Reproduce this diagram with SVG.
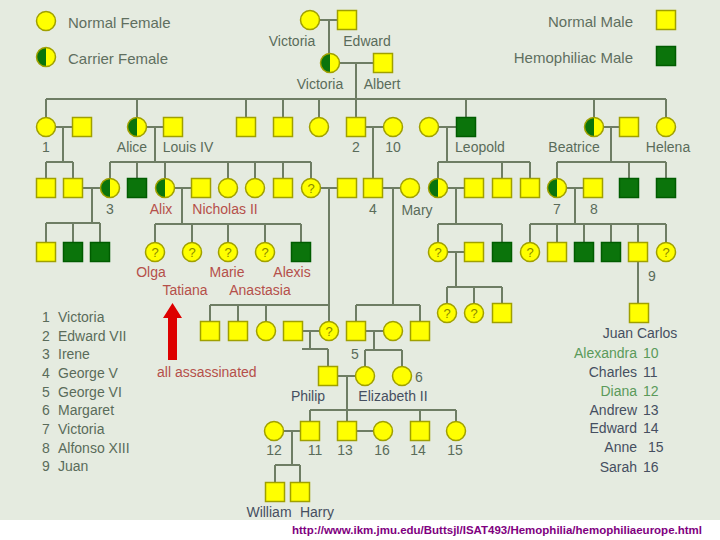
<svg xmlns="http://www.w3.org/2000/svg" xmlns:xlink="http://www.w3.org/1999/xlink" width="720" height="540" viewBox="0 0 720 540">
<style>
text{font-family:"Liberation Sans",Arial,sans-serif;font-size:14px;fill:#5a6b5a}
.lg{font-size:15px;fill:#5f6f5f}
.c{text-anchor:middle}
.e{text-anchor:end}
.r{fill:#b5504a}
.d{fill:#454f60}
.g{fill:#5a9a5a}
.q{font-size:13px;fill:#8a8a00;text-anchor:middle}
.ln{fill:none;stroke:#6e7d64;stroke-width:2}
.y{fill:#ffff00;stroke:#a0a000;stroke-width:1.5}
.h{fill:#0b740b;stroke:#005c00;stroke-width:1.5}
.url{font-size:11px;font-weight:bold;fill:#800080}
</style>
<defs>
<g id="F"><circle r="9.5" class="y"/></g>
<g id="M"><rect x="-9.5" y="-9.5" width="19" height="19" class="y"/></g>
<g id="H"><rect x="-9.5" y="-9.5" width="19" height="19" class="h"/></g>
<g id="C"><circle r="9.5" fill="#ffff00"/><path d="M0,-9.5A9.5,9.5 0 0,0 0,9.5Z" fill="#0b740b"/><circle r="9.5" fill="none" stroke="#a0a000" stroke-width="1.5"/></g>
<g id="Q"><circle r="9.5" class="y"/><text class="q" y="4.5">?</text></g>
</defs>
<rect width="720" height="540" fill="#e5ebe0"/>
<rect y="520" width="720" height="20" fill="#ffffff"/>

<g id="legend">
<use href="#F" x="46" y="21"/><text class="lg" x="68" y="28">Normal Female</text>
<use href="#C" x="46" y="57"/><text class="lg" x="68" y="64">Carrier Female</text>
<text class="lg e" x="633" y="27">Normal Male</text><use href="#M" x="666" y="20"/>
<text class="lg e" x="633" y="63">Hemophiliac Male</text><use href="#H" x="666" y="56"/>
</g>

<g id="connectors">
<path class="ln" d="M320,20H337M329,20V53.5M339.5,63H373.5M356,63V117.5M46,99H666M46,99V117.5M137,99V117.5M246,99V117.5M283,99V117.5M319,99V117.5M466,99V117.5M594,99V117.5M666,99V117.5
M55.5,127H72.5M63,127V162M146.5,127H163.5M155,127V162M365.5,127H383.5M373,127V178.5M438.5,127H456.5M447,127V162M603.5,127H619.5M611,127V162
M46,162H73M46,162V178.5M73,162V178.5M110,162H311M110,162V178.5M137,162V178.5M165,162V178.5M228,162V178.5M255,162V178.5M283,162V178.5M311,162V178.5
M438,162H530M438,162V178.5M502,162V178.5M530,162V178.5M557,162H666M557,162V178.5M629,162V178.5M666,162V178.5
M82.5,188H100.5M92,188V223M174.5,188H191.5M182,188V224M320.5,188H337.5M329,188V321.5M382.5,188H400.5M393,188V305M447.5,188H464.5M456,188V224M566.5,188H583.5M575,188V224
M46,223H100M46,223V242.5M73,223V242.5M100,223V242.5M155,224H301M155,224V242.5M192,224V242.5M228,224V242.5M265,224V242.5M301,224V242.5
M438,224H502M438,224V242.5M502,224V242.5M530,224H666M530,224V242.5M557,224V242.5M584,224V242.5M611,224V242.5M638,224V242.5M666,224V242.5
M447.5,252H464.5M456,252V287M638,261.5V303.5M447,287H502M447,287V303.5M474,287V303.5M502,287V303.5
M210,305H329M210,305V321.5M238,305V321.5M266,305V321.5M356,305H420M356,305V321.5M420,305V321.5
M302.5,331H319.5M310,331V349M302,349H328M328,349V366.5M365.5,331H383.5M374,331V350M365,350H402M365,350V366.5M402,350V366.5
M337.5,376H355.5M347,376V421.5M310,410H456M310,410V421.5M420,410V421.5M456,410V421.5
M283.5,431H300.5M292,431V465M275,465H300M275,465V482.5M300,465V482.5M356.5,431H373.5"/>
</g>

<g id="victoria0"><use href="#F" x="310" y="20"/><text class="c" x="292" y="46">Victoria</text></g>
<g id="edward"><use href="#M" x="347" y="20"/><text class="c" x="367" y="46">Edward</text></g>
<g id="victoria"><use href="#C" x="330" y="63"/><text class="c" x="320" y="89">Victoria</text></g>
<g id="albert"><use href="#M" x="383" y="63"/><text class="c" x="382" y="89">Albert</text></g>

<g id="n1"><use href="#F" x="46" y="127"/><text class="c" x="46" y="152">1</text></g>
<g id="n1sp"><use href="#M" x="82" y="127"/></g>
<g id="alice"><use href="#C" x="137" y="127"/><text class="c" x="132" y="152">Alice</text></g>
<g id="louis"><use href="#M" x="173" y="127"/><text class="c" x="188" y="152">Louis IV</text></g>
<g id="g2a"><use href="#M" x="246" y="127"/></g>
<g id="g2b"><use href="#M" x="283" y="127"/></g>
<g id="g2c"><use href="#F" x="319" y="127"/></g>
<g id="n2"><use href="#M" x="356" y="127"/><text class="c" x="356" y="152">2</text></g>
<g id="n10"><use href="#F" x="393" y="127"/><text class="c" x="393" y="152">10</text></g>
<g id="leowife"><use href="#F" x="429" y="127"/></g>
<g id="leopold"><use href="#H" x="466" y="127"/><text class="c" x="480" y="152">Leopold</text></g>
<g id="beatrice"><use href="#C" x="594" y="127"/><text class="c" x="574" y="152">Beatrice</text></g>
<g id="beasp"><use href="#M" x="629" y="127"/></g>
<g id="helena"><use href="#F" x="666" y="127"/><text class="c" x="668" y="152">Helena</text></g>

<g id="g3a"><use href="#M" x="46" y="188"/></g>
<g id="g3b"><use href="#M" x="73" y="188"/></g>
<g id="irene"><use href="#C" x="110" y="188"/><text class="c" x="110" y="214">3</text></g>
<g id="g3c"><use href="#H" x="137" y="188"/></g>
<g id="alix"><use href="#C" x="165" y="188"/><text class="c r" x="161" y="214">Alix</text></g>
<g id="nicholas"><use href="#M" x="201" y="188"/><text class="c r" x="225" y="214">Nicholas II</text></g>
<g id="g3d"><use href="#F" x="228" y="188"/></g>
<g id="g3e"><use href="#F" x="255" y="188"/></g>
<g id="g3f"><use href="#M" x="283" y="188"/></g>
<g id="g3g"><use href="#Q" x="311" y="188"/></g>
<g id="g3gsp"><use href="#M" x="347" y="188"/></g>
<g id="n4"><use href="#M" x="373" y="188"/><text class="c" x="373" y="214">4</text></g>
<g id="mary"><use href="#F" x="410" y="188"/><text class="c" x="417" y="215">Mary</text></g>
<g id="leoc"><use href="#C" x="438" y="188"/></g>
<g id="leocsp"><use href="#M" x="474" y="188"/></g>
<g id="g3h"><use href="#M" x="502" y="188"/></g>
<g id="g3i"><use href="#M" x="530" y="188"/></g>
<g id="n7"><use href="#C" x="557" y="188"/><text class="c" x="557" y="214">7</text></g>
<g id="n8"><use href="#M" x="593" y="188"/><text class="c" x="594" y="214">8</text></g>
<g id="g3j"><use href="#H" x="629" y="188"/></g>
<g id="g3k"><use href="#H" x="666" y="188"/></g>

<g id="g4a"><use href="#M" x="46" y="252"/></g>
<g id="g4b"><use href="#H" x="73" y="252"/></g>
<g id="g4c"><use href="#H" x="100" y="252"/></g>
<g id="olga"><use href="#Q" x="155" y="252"/><text class="c r" x="151" y="277">Olga</text></g>
<g id="tatiana"><use href="#Q" x="192" y="252"/><text class="c r" x="185" y="295">Tatiana</text></g>
<g id="marie"><use href="#Q" x="228" y="252"/><text class="c r" x="227" y="277">Marie</text></g>
<g id="anastasia"><use href="#Q" x="265" y="252"/><text class="c r" x="260" y="295">Anastasia</text></g>
<g id="alexis"><use href="#H" x="301" y="252"/><text class="c r" x="292" y="277">Alexis</text></g>
<g id="g4d"><use href="#Q" x="438" y="252"/></g>
<g id="g4dsp"><use href="#M" x="474" y="252"/></g>
<g id="g4e"><use href="#H" x="502" y="252"/></g>
<g id="g4f"><use href="#Q" x="530" y="252"/></g>
<g id="g4g"><use href="#M" x="557" y="252"/></g>
<g id="g4h"><use href="#H" x="584" y="252"/></g>
<g id="g4i"><use href="#H" x="611" y="252"/></g>
<g id="n9"><use href="#M" x="638" y="252"/><text class="c" x="652" y="281">9</text></g>
<g id="g4j"><use href="#Q" x="666" y="252"/></g>

<g id="g5a"><use href="#Q" x="447" y="313"/></g>
<g id="g5b"><use href="#Q" x="474" y="313"/></g>
<g id="g5c"><use href="#M" x="502" y="313"/></g>
<g id="juancarlos"><use href="#M" x="639" y="313"/></g>

<g id="g5d"><use href="#M" x="210" y="331"/></g>
<g id="g5e"><use href="#M" x="238" y="331"/></g>
<g id="g5f"><use href="#F" x="266" y="331"/></g>
<g id="g5gsp"><use href="#M" x="293" y="331"/></g>
<g id="g5g"><use href="#Q" x="329" y="331"/></g>
<g id="n5"><use href="#M" x="356" y="331"/><text class="c" x="355" y="359">5</text></g>
<g id="n5sp"><use href="#F" x="393" y="331"/></g>
<g id="g5h"><use href="#M" x="420" y="331"/></g>

<g id="philip"><use href="#M" x="328" y="376"/><text class="c d" x="308" y="401">Philip</text></g>
<g id="elizabeth"><use href="#F" x="365" y="376"/><text class="c d" x="393" y="401">Elizabeth II</text></g>
<g id="n6"><use href="#F" x="402" y="376"/><text class="c" x="419" y="382">6</text></g>

<g id="n12"><use href="#F" x="274" y="431"/><text class="c" x="274" y="455">12</text></g>
<g id="n11"><use href="#M" x="310" y="431"/><text class="c" x="315" y="455">11</text></g>
<g id="n13"><use href="#M" x="347" y="431"/><text class="c" x="345" y="455">13</text></g>
<g id="n16"><use href="#F" x="383" y="431"/><text class="c" x="382" y="455">16</text></g>
<g id="n14"><use href="#M" x="420" y="431"/><text class="c" x="418" y="455">14</text></g>
<g id="n15"><use href="#F" x="456" y="431"/><text class="c" x="455" y="455">15</text></g>
<g id="william"><use href="#M" x="275" y="492"/><text class="c d" x="269" y="517">William</text></g>
<g id="harry"><use href="#M" x="300" y="492"/><text class="c d" x="317" y="517">Harry</text></g>

<g id="keyleft">
<text class="c" x="46" y="322">1</text><text x="58" y="322">Victoria</text>
<text class="c" x="46" y="341">2</text><text x="58" y="341">Edward VII</text>
<text class="c" x="46" y="359">3</text><text x="58" y="359">Irene</text>
<text class="c" x="46" y="378">4</text><text x="58" y="378">George V</text>
<text class="c" x="46" y="397">5</text><text x="58" y="397">George VI</text>
<text class="c" x="46" y="415">6</text><text x="58" y="415">Margaret</text>
<text class="c" x="46" y="434">7</text><text x="58" y="434">Victoria</text>
<text class="c" x="46" y="453">8</text><text x="58" y="453">Alfonso XIII</text>
<text class="c" x="46" y="471">9</text><text x="58" y="471">Juan</text>
</g>

<g id="assassinated">
<path d="M168,360V318H163L172.5,303L182,318H177V360Z" fill="#dd0000"/>
<text class="r" x="157" y="377">all assassinated</text>
</g>

<g id="keyright">
<text class="c d" x="640" y="338">Juan Carlos</text>
<text class="e g" x="637" y="358">Alexandra</text><text class="g" x="643" y="358">10</text>
<text class="e d" x="637" y="377">Charles</text><text class="d" x="643" y="377">11</text>
<text class="e g" x="637" y="396">Diana</text><text class="g" x="643" y="396">12</text>
<text class="e d" x="637" y="415">Andrew</text><text class="d" x="643" y="415">13</text>
<text class="e d" x="637" y="433">Edward</text><text class="d" x="643" y="433">14</text>
<text class="e d" x="637" y="452">Anne</text><text class="d" x="648" y="452">15</text>
<text class="e d" x="637" y="472">Sarah</text><text class="d" x="643" y="472">16</text>
</g>

<text class="url" x="292" y="534" textLength="410" lengthAdjust="spacingAndGlyphs">http://www.ikm.jmu.edu/Buttsjl/ISAT493/Hemophilia/hemophiliaeurope.html</text>
</svg>
